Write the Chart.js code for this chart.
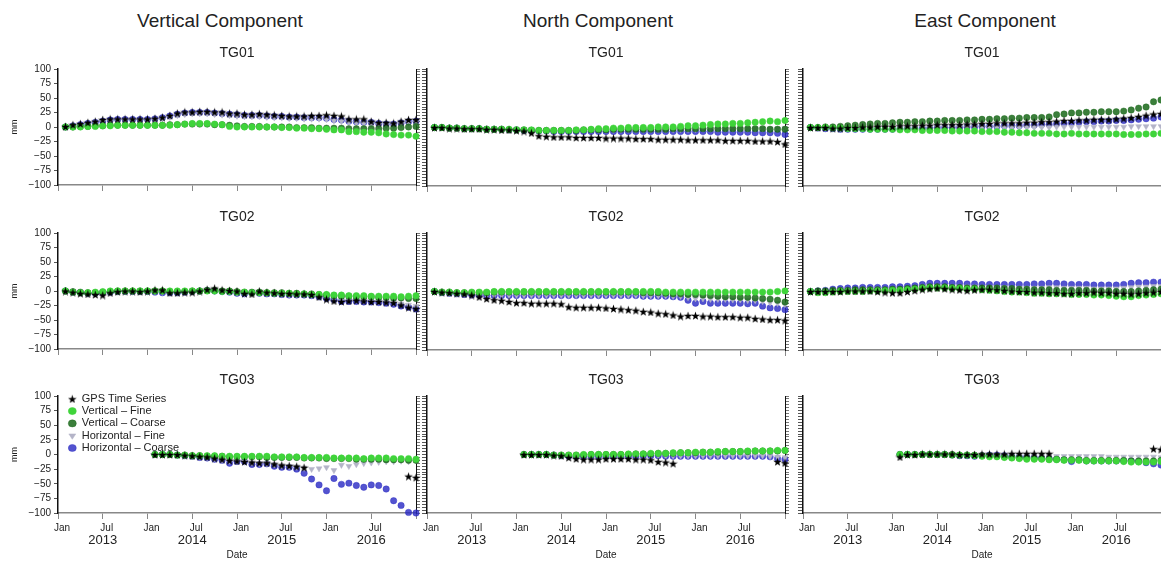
<!DOCTYPE html>
<html>
<head>
<meta charset="utf-8">
<script src="https://cdn.jsdelivr.net/npm/chart.js@4.4.1/dist/chart.umd.min.js"></script>
<style>
  body { margin: 0; width: 1161px; height: 562px; overflow: hidden; background: #fff; position: relative;
         font-family: "Liberation Sans", Arial, sans-serif; color: #222; }
  canvas { position: absolute; }
  .comp { position: absolute; top: 11px; font-size: 19px; line-height: 19px; transform: translateX(-50%); white-space: nowrap; }
  .stn { position: absolute; font-size: 14px; line-height: 14px; transform: translateX(-50%); }
</style>
</head>
<body>
<script>
// x = months since Jan 2013 (one sample per month, Feb 2013 .. Jan 2017)
var months = [];
for (var m = 1; m <= 48; m++) months.push(m);
var xTicks = [0, 6, 12, 18, 24, 30, 36, 42, 48];
var xTickLabels = ['Jan', 'Jul', 'Jan', 'Jul', 'Jan', 'Jul', 'Jan', 'Jul', ''];
var yearTicks = [6, 18, 30, 42];
var yearLabels = ['2013', '2014', '2015', '2016'];

var components = ['Vertical Component', 'North Component', 'East Component'];
var componentX = [220, 598, 985];
var stations = ['TG01', 'TG02', 'TG03'];
var seriesNames = ['GPS Time Series', 'Vertical \u2013 Fine', 'Vertical \u2013 Coarse', 'Horizontal \u2013 Fine', 'Horizontal \u2013 Coarse'];

var pre = [null, null, null, null, null, null, null, null, null, null, null, null]; // TG03 starts Feb 2014

// ---- Vertical / TG01 (mm)
var V1gps = [1,4,6,8,10,13,14,14,14,14, 14,14,15,17,20,24,26,26,27,27, 26,26,24,24,22,22,23,22,21,20, 19,19,19,20,20,21,20,19,14,14, 14,10,8,8,7,10,13,13];
var V1vf  = [0,0,0,1,1,2,2,3,3,3, 3,3,3,3,3,4,5,6,6,6, 5,4,1,0,0,0,0,0,0,-1, -1,-2,-2,-3,-3,-4,-5,-5,-8,-8, -9,-9,-10,-12,-13,-14,-14,-16];
var V1vc  = [0,0,1,1,2,2,3,3,3,3, 3,3,3,3,4,4,5,5,5,5, 4,4,3,2,1,1,1,0,0,0, 0,-1,-1,-1,-2,-2,-2,-2,-3,-3, -3,-3,-3,-2,-2,-1,0,1];
var V1hf  = [0,1,3,5,7,9,10,11,11,11, 11,11,12,14,17,20,22,23,23,23, 22,21,20,19,18,18,18,17,16,16, 15,15,14,14,14,13,11,10,8,7, 6,6,4,3,3,5,7,8];
var V1hc  = [0,2,4,6,8,10,12,13,13,13, 13,13,14,16,19,22,24,25,25,25, 24,23,22,21,20,20,20,19,18,18, 17,17,16,16,16,15,13,12,10,9, 8,8,6,5,5,7,9,10];

// ---- Vertical / TG02
var V2gps = [0,-2,-4,-5,-6,-7,-3,-1,0,0, -1,0,2,2,-3,-3,-2,-2,0,3, 5,2,1,0,-4,-5,0,-2,-3,-4, -4,-5,-5,-6,-10,-14,-17,-18,-17,-16, -17,-18,-18,-19,-20,-24,-28,-30];
var V2vf  = [0,-2,-3,-3,-2,-1,0,0,0,0, 0,0,0,0,0,0,0,0,0,0, 0,-1,-1,-2,-2,-3,-3,-3,-4,-4, -4,-5,-5,-6,-6,-6,-7,-7,-8,-8, -8,-9,-9,-9,-9,-10,-9,-8];
var V2vc  = [0,-1,-2,-3,-3,-2,-1,0,0,0, 0,0,0,0,-1,-1,-1,0,0,1, 1,0,0,-1,-2,-2,-2,-3,-3,-3, -4,-4,-5,-5,-6,-7,-8,-9,-9,-10, -10,-10,-11,-11,-12,-12,-13,-13];
var V2hf  = [0,-1,-2,-3,-3,-2,-1,0,0,0, 0,0,-1,-2,-2,-2,-1,0,1,2, 1,0,-1,-3,-4,-2,-3,-4,-4,-5, -6,-6,-6,-7,-9,-11,-13,-15,-15,-15, -16,-16,-17,-18,-19,-22,-24,-26];
var V2hc  = [0,-2,-3,-4,-4,-3,-2,-1,-1,-1, -1,-1,-2,-3,-3,-3,-2,-1,0,1, 0,-1,-2,-4,-5,-3,-4,-5,-5,-6, -7,-7,-7,-8,-10,-13,-15,-18,-18,-18, -19,-19,-20,-21,-23,-26,-28,-31];

// ---- Vertical / TG03
var V3gps = pre.concat([0,0,0,0,-1,-2,-3,-4,-6,-8, -10,-11,-12,-13,-14,-14,-16,-18,-19,-20, -22, null,null,null,null,null,null,null,null,null,null,null,null,null, -37,-39]);
var V3vf  = pre.concat([0,0,0,-1,-1,-2,-2,-2,-2,-3, -3,-3,-3,-3,-3,-3,-4,-4,-4,-4, -5,-5,-5,-5,-6,-6,-6,-6,-7,-6, -6,-6,-7,-7,-7,-8]);
var V3vc  = pre.concat([0,0,0,-1,-1,-2,-2,-3,-3,-3, -4,-4,-4,-4,-4,-5,-5,-5,-5,-5, -6,-6,-6,-7,-7,-7,-7,-8,-8,-8, -8,-9,-9,-9,-10,-10]);
var V3hf  = pre.concat([0,0,0,-1,-2,-3,-4,-5,-7,-9, -11,-11,-12,-14,-15,-15,-17,-19,-20,-21, -23,-25,-24,-22,-27,-18,-20,-17,-15,-14, -13,-12,-12,-11,-12,-10]);
var V3hc  = pre.concat([0,0,0,-1,-2,-3,-5,-6,-8,-10, -15,-12,-12,-17,-17,-16,-20,-22,-22,-25, -32,-42,-52,-62,-41,-51,-49,-53,-56,-52, -53,-59,-79,-87,-99,-100]);

// ---- North / TG01
var N1gps = [0,0,-1,-1,-2,-2,-2,-3,-3,-4, -4,-5,-6,-9,-14,-15,-16,-16,-16,-17, -17,-17,-17,-18,-18,-18,-18,-19,-19,-19, -20,-20,-20,-20,-21,-21,-21,-21,-21,-22, -22,-22,-22,-23,-23,-23,-24,-28];
var N1vf  = [0,0,-1,-1,-2,-2,-2,-3,-3,-3, -3,-4,-4,-4,-5,-5,-5,-5,-5,-4, -4,-3,-2,-2,-1,-1,0,0,0,0, 1,1,1,2,3,3,4,5,6,6, 7,7,8,9,10,11,10,12];
var N1vc  = [0,0,-1,-1,-2,-2,-2,-3,-3,-3, -4,-4,-4,-5,-5,-5,-5,-5,-5,-5, -4,-4,-4,-4,-3,-3,-3,-3,-3,-3, -3,-3,-2,-2,-2,-2,-2,-2,-2,-2, -2,-2,-2,-2,-2,-3,-3,-3];
var N1hf  = [0,0,0,-1,-1,-1,-2,-2,-2,-2, -3,-3,-3,-3,-4,-4,-4,-4,-4,-4, -4,-4,-4,-4,-4,-4,-3,-3,-3,-3, -3,-3,-3,-3,-3,-3,-2,-2,-2,-2, -2,-2,-2,-2,-2,-2,-2,-1];
var N1hc  = [0,0,-1,-1,-2,-2,-2,-3,-3,-3, -4,-4,-5,-5,-6,-6,-7,-7,-7,-7, -7,-7,-7,-7,-7,-7,-7,-7,-7,-7, -7,-7,-7,-7,-7,-7,-7,-7,-8,-8, -8,-8,-8,-9,-9,-9,-10,-12];

// ---- North / TG02
var N2gps = [0,-1,-2,-3,-4,-6,-9,-12,-14,-15, -17,-19,-19,-20,-20,-20,-20,-21,-26,-27, -27,-27,-27,-28,-29,-30,-31,-32,-34,-35, -37,-38,-40,-42,-41,-41,-42,-42,-43,-43, -43,-44,-44,-46,-47,-48,-48,-49];
var N2vf  = [0,-1,-1,-2,-2,-1,-1,-1,0,0, 0,0,0,0,0,0,0,0,0,0, 0,0,0,0,0,0,0,0,0,0, 0,-1,-1,-1,-1,-1,-1,-1,-1,-1, -1,-1,-1,-1,-1,-1,0,1];
var N2vc  = [0,-1,-1,-2,-2,-2,-2,-2,-1,-1, -1,-1,-1,-1,-1,-1,-1,-1,-1,-1, -1,-1,-1,-1,-1,-1,-1,-1,-2,-2, -2,-3,-4,-4,-5,-5,-6,-7,-8,-9, -9,-10,-10,-11,-12,-13,-15,-18];
var N2hf  = [0,-1,-2,-3,-4,-5,-5,-6,-6,-6, -6,-6,-6,-6,-6,-6,-6,-6,-6,-6, -6,-6,-6,-6,-6,-6,-6,-6,-7,-7, -7,-7,-8,-8,-10,-12,-12,-13,-13,-13, -14,-14,-15,-15,-17,-19,-20,-22];
var N2hc  = [0,-2,-3,-4,-5,-6,-6,-7,-7,-7, -7,-7,-7,-7,-7,-7,-7,-7,-7,-7, -7,-7,-7,-7,-7,-7,-7,-7,-8,-8, -8,-8,-9,-10,-15,-20,-17,-20,-20,-20, -20,-20,-21,-20,-25,-28,-29,-31];

// ---- North / TG03
var N3gps = pre.concat([0,0,0,0,-1,-2,-5,-7,-8,-8, -8,-7,-7,-7,-7,-8,-8,-9,-12,-13, -15, null,null,null,null,null,null,null,null,null,null,null,null,null, -12,-14]);
var N3vf  = pre.concat([0,0,0,0,-1,-1,-1,-1,0,0, 0,0,0,0,1,1,1,2,2,2, 3,3,3,4,4,4,5,5,5,5, 6,6,6,6,7,7]);
var N3vc  = pre.concat([0,0,0,0,-1,-1,-1,-1,-1,0, 0,0,0,0,0,1,1,1,2,2, 2,3,3,3,4,4,4,5,5,5, 5,6,6,6,6,7]);
var N3hf  = pre.concat([0,0,0,0,-1,-1,-2,-2,-2,-2, -2,-2,-2,-2,-2,-2,-1,-1,-1,-2, -2,-2,-2,-2,-2,-2,-2,-2,-2,-2, -2,-2,-2,-3,-4,-5]);
var N3hc  = pre.concat([0,0,0,0,-1,-2,-3,-3,-3,-3, -3,-3,-3,-3,-3,-3,-2,-2,-2,-3, -3,-3,-3,-3,-3,-3,-3,-3,-3,-3, -3,-3,-3,-4,-7,-8]);

// ---- East / TG01
var E1gps = [0,0,0,-1,-1,0,0,1,1,2, 2,2,3,3,3,4,4,5,5,5, 5,6,6,7,7,8,8,8,8,9, 9,10,10,11,12,12,13,13,14,14, 14,15,16,17,19,21,23,24];
var E1vf  = [0,0,0,-1,-1,-2,-2,-2,-3,-3, -3,-3,-4,-4,-4,-5,-5,-5,-5,-6, -6,-6,-6,-7,-7,-7,-8,-8,-9,-9, -10,-10,-10,-11,-11,-10,-11,-11,-11,-11, -11,-11,-12,-12,-12,-11,-11,-10];
var E1vc  = [0,0,1,1,2,3,4,5,6,7, 7,8,9,9,10,10,11,11,12,12, 12,13,13,14,14,15,15,16,16,17, 17,17,18,22,23,25,25,26,26,27, 27,27,28,30,33,35,44,47];
var E1hf  = [0,0,0,0,-1,-1,-1,-1,-1,-1, -1,-1,-1,-1,0,0,0,0,0,0, 0,0,0,0,0,0,0,0,0,0, 0,0,0,1,1,1,1,1,1,1, 1,1,1,2,2,2,2,2];
var E1hc  = [0,-1,-2,-2,-3,-3,-3,-3,-3,-3, -3,-3,-2,-2,-2,-1,-1,0,0,0, 0,1,1,2,2,2,3,3,3,4, 4,5,5,6,7,8,9,10,10,11, 11,12,12,13,14,15,16,18];

// ---- East / TG02
var E2gps = [0,0,0,0,0,1,1,1,1,0, -1,-2,-2,0,2,4,5,6,5,4, 3,2,3,4,4,3,2,1,0,0, -1,-1,-2,-2,-3,-3,-2,-2,-1,-2, -2,-3,-3,-4,-3,-2,-1,0];
var E2vf  = [0,-2,-2,-1,0,0,0,0,1,1, 1,2,2,3,4,5,6,6,6,5, 5,4,4,3,2,1,0,-1,-1,-2, -3,-3,-4,-4,-4,-5,-5,-5,-6,-6, -7,-8,-9,-9,-7,-6,-5,-4];
var E2vc  = [0,1,1,2,2,2,3,3,3,3, 3,4,4,5,6,7,8,8,8,7, 7,6,6,6,6,6,5,5,4,4, 3,3,3,2,2,2,2,2,1,1, 1,0,0,0,1,2,3,4];
var E2hf  = [0,0,1,2,3,3,3,4,4,4, 4,4,4,5,6,8,9,9,9,8, 8,8,8,7,7,7,7,6,6,6, 6,6,7,7,6,6,6,6,5,5, 5,5,6,7,8,8,9,9];
var E2hc  = [0,1,2,4,5,6,6,7,7,7, 7,8,8,9,10,12,14,14,14,14, 14,13,13,12,12,12,12,12,12,12, 13,13,14,14,13,12,12,12,11,11, 11,11,12,14,15,15,16,16];

// ---- East / TG03
var E3gps = pre.concat([-4,0,0,1,1,1,1,1,0,0, 0,1,1,1,1,2,2,2,2,2, 2, null,null,null,null,null,null,null,null,null,null,null,null,null, 10,9]);
var E3vf  = pre.concat([0,0,0,0,0,0,0,-1,-1,-1, -2,-3,-4,-4,-5,-6,-7,-8,-8,-8, -9,-9,-10,-10,-10,-11,-11,-11,-11,-11, -12,-13,-13,-13,-13,-12]);
var E3vc  = pre.concat([0,0,0,0,0,0,0,0,-1,-1, -1,-2,-2,-3,-4,-5,-6,-6,-7,-7, -8,-8,-9,-9,-9,-10,-10,-10,-10,-10, -10,-11,-11,-11,-11,-10]);
var E3hf  = pre.concat([0,0,0,0,0,0,0,0,-1,-1, -1,-1,-1,-1,-2,-2,-2,-2,-3,-3, -3,-3,-3,-3,-3,-3,-3,-3,-4,-4, -4,-4,-4,-4,-4,-5]);
var E3hc  = pre.concat([0,0,0,0,0,0,0,-1,-2,-2, -3,-2,-1,-1,-2,-3,-4,-4,-5,-6, -7,-8,-9,-12,-9,-11,-11,-11,-11,-11, -11,-11,-12,-14,-16,-18]);

// rows = stations, columns = components
var panels = [
  [[V1gps, V1vf, V1vc, V1hf, V1hc], [N1gps, N1vf, N1vc, N1hf, N1hc], [E1gps, E1vf, E1vc, E1hf, E1hc]],
  [[V2gps, V2vf, V2vc, V2hf, V2hc], [N2gps, N2vf, N2vc, N2hf, N2hc], [E2gps, E2vf, E2vc, E2hf, E2hc]],
  [[V3gps, V3vf, V3vc, V3hf, V3hc], [N3gps, N3vf, N3vc, N3hf, N3hc], [E3gps, E3vf, E3vc, E3hf, E3hc]]
];

var colors = ['#000000', '#3fd43a', 'rgba(25,105,25,0.85)', '#b4b4c8', 'rgba(40,40,195,0.8)'];

Chart.defaults.font.family = '"Liberation Sans", Arial, sans-serif';
Chart.defaults.color = '#222';

// filled five point star used as the GPS marker
function starImage(size, color) {
  var c = document.createElement('canvas');
  c.width = size; c.height = size;
  var g = c.getContext('2d');
  g.fillStyle = color;
  g.beginPath();
  for (var i = 0; i < 10; i++) {
    var r = i % 2 ? size * 0.2 : size / 2;
    var a = -Math.PI / 2 + i * Math.PI / 5;
    g.lineTo(size / 2 + r * Math.cos(a), size / 2 + 0.6 + r * Math.sin(a));
  }
  g.closePath();
  g.fill();
  return c;
}
var star = starImage(9, '#000');

function toPoints(vals) {
  var out = [];
  for (var i = 0; i < vals.length; i++) {
    if (vals[i] !== null) out.push({x: months[i], y: vals[i]});
  }
  return out;
}

function makeDatasets(series) {
  var styles = [
    {pointStyle: star, pointRadius: 4.5, pointRotation: 0},
    {pointStyle: 'circle', pointRadius: 3.2, pointRotation: 0},
    {pointStyle: 'circle', pointRadius: 3.2, pointRotation: 0},
    {pointStyle: 'triangle', pointRadius: 3.4, pointRotation: 180},
    {pointStyle: 'circle', pointRadius: 3.2, pointRotation: 0}
  ];
  return series.map(function (vals, i) {
    return {
      label: seriesNames[i],
      data: toPoints(vals),
      showLine: false,
      clip: false,
      pointStyle: styles[i].pointStyle,
      pointRadius: styles[i].pointRadius,
      pointRotation: styles[i].pointRotation,
      pointBorderWidth: 0.5,
      backgroundColor: colors[i],
      borderColor: colors[i]
    };
  });
}

// move the legend into the upper left corner of its panel
var legendCorner = {
  id: 'legendCorner',
  afterLayout: function (chart) {
    if (chart.options.plugins.legend.display && chart.legend) {
      chart.legend.left = chart.chartArea.left + 9;
      chart.legend.top = chart.chartArea.top - 4;
    }
  }
};

var colLeft = [58, 427, 803], plotW = 358;
var rowTop = [69, 233, 396], plotH = 117;

components.forEach(function (name, c) {
  var d = document.createElement('div');
  d.className = 'comp';
  d.style.left = componentX[c] + 'px';
  d.textContent = name;
  document.body.appendChild(d);
});

for (var r = 0; r < 3; r++) {
  for (var c = 0; c < 3; c++) {
    (function (r, c) {
      var leftW = c === 0 ? 58 : 12;
      var bottomH = r === 2 ? 48 : 8;
      var cv = document.createElement('canvas');
      cv.width = leftW + plotW + 6;
      cv.height = 10 + plotH + bottomH;
      cv.style.left = (colLeft[c] - leftW) + 'px';
      cv.style.top = (rowTop[r] - 10) + 'px';
      document.body.appendChild(cv);

      var st = document.createElement('div');
      st.className = 'stn';
      st.style.left = (colLeft[c] + plotW / 2) + 'px';
      st.style.top = (rowTop[r] - 24) + 'px';
      st.textContent = stations[r];
      document.body.appendChild(st);

      var scales = {
        x: {
          type: 'linear', position: 'bottom', min: 0, max: 48,
          afterBuildTicks: function (s) { s.ticks = xTicks.map(function (v) { return {value: v}; }); },
          ticks: {
            display: r === 2, autoSkip: false, maxRotation: 0, padding: 3, labelOffset: 4,
            font: {size: 10}, color: '#222',
            callback: function (v, i) { return xTickLabels[i]; }
          },
          grid: {drawOnChartArea: false, tickLength: 6, color: '#888'},
          border: {color: '#888', width: 1.5},
          afterFit: function (s) { s.height = r === 2 ? 20 : 8; }
        },
        y: {
          position: 'left', min: -100, max: 100,
          ticks: {
            display: c === 0, autoSkip: false, stepSize: c === 0 ? 25 : 5, padding: 3,
            font: {size: 10}, color: '#222',
            callback: function (v) { return String(v).replace('-', '\u2212'); }
          },
          grid: {drawOnChartArea: false, tickLength: c === 0 ? 4 : 5, color: '#555'},
          border: {color: '#111', width: 1.5},
          title: {display: c === 0, text: 'mm', font: {size: 9}, color: '#222', padding: {top: 9, bottom: 0}},
          afterFit: function (s) { s.width = leftW; }
        },
        y2: {
          position: 'right', min: -100, max: 100,
          ticks: {display: false, stepSize: 5},
          grid: {drawOnChartArea: false, tickLength: 4, color: '#777'},
          border: {color: '#111', width: 1},
          afterFit: function (s) { s.width = 6; }
        }
      };
      if (r === 2) {
        scales.xYear = {
          type: 'linear', position: 'bottom', min: 0, max: 48,
          afterBuildTicks: function (s) { s.ticks = yearTicks.map(function (v) { return {value: v}; }); },
          ticks: {
            autoSkip: false, maxRotation: 0, padding: 0, font: {size: 13}, color: '#222',
            callback: function (v, i) { return yearLabels[i]; }
          },
          grid: {display: false, drawTicks: false},
          border: {display: false},
          title: {display: true, text: 'Date', font: {size: 10}, color: '#222', padding: {top: 0, bottom: 0}},
          afterFit: function (s) { s.height = 28; }
        };
      }

      new Chart(cv, {
        type: 'scatter',
        data: {datasets: makeDatasets(panels[r][c])},
        options: {
          responsive: false,
          animation: false,
          events: [],
          layout: {padding: {top: 10, left: 0, right: 0, bottom: 0}},
          scales: scales,
          plugins: {
            tooltip: {enabled: false},
            legend: {
              display: r === 2 && c === 0,
              position: 'chartArea',
              align: 'start',
              labels: {usePointStyle: true, pointStyleWidth: 8, boxHeight: 5, padding: 1.3, font: {size: 11}, color: '#222'}
            }
          }
        },
        plugins: [legendCorner]
      });
    })(r, c);
  }
}
</script>
</body>
</html>
